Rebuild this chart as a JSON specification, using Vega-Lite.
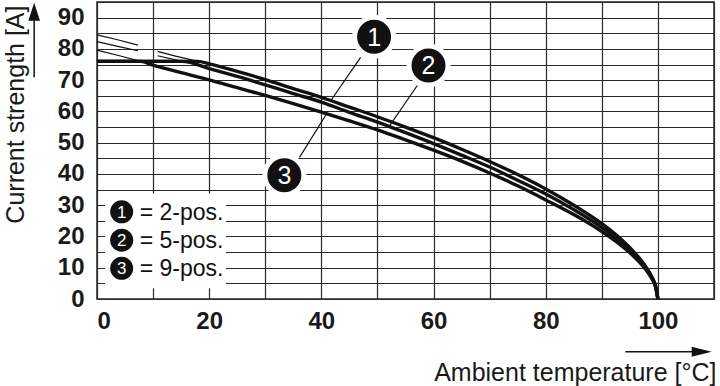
{
  "$schema": "https://vega.github.io/schema/vega-lite/v6.json",
  "width": 617,
  "height": 297,
  "autosize": {"type": "none"},
  "padding": {"left": 97, "top": 2, "right": 6, "bottom": 87},
  "background": "white",
  "config": {
    "font": "Liberation Sans",
    "view": {"stroke": "#2a2a2a", "strokeWidth": 1.5},
    "axis": {
      "domain": false,
      "ticks": false,
      "grid": true,
      "gridColor": "#2a2a2a",
      "gridWidth": 1.2,
      "gridOpacity": 1,
      "labelFont": "Liberation Sans",
      "labelFontWeight": "bold",
      "labelFontSize": 24,
      "labelColor": "#1a1a1a",
      "titleFont": "Liberation Sans",
      "titleFontWeight": "normal",
      "titleFontSize": 25,
      "titleColor": "#1a1a1a"
    }
  },
  "datasets": {
    "thick": [
      {"s": "1", "x": 0, "y": 76}, {"s": "1", "x": 18, "y": 76}, {"s": "1", "x": 20, "y": 75.2}, {"s": "1", "x": 25, "y": 72.8}, {"s": "1", "x": 30, "y": 70.2}, {"s": "1", "x": 35, "y": 67.3}, {"s": "1", "x": 40, "y": 64.5}, {"s": "1", "x": 45, "y": 61.4}, {"s": "1", "x": 50, "y": 58.3}, {"s": "1", "x": 55, "y": 55.0}, {"s": "1", "x": 60, "y": 51.6}, {"s": "1", "x": 65, "y": 47.9}, {"s": "1", "x": 70, "y": 44.0}, {"s": "1", "x": 75, "y": 39.8}, {"s": "1", "x": 80, "y": 35.2}, {"s": "1", "x": 85, "y": 30.0}, {"s": "1", "x": 90, "y": 24.1}, {"s": "1", "x": 93, "y": 19.8}, {"s": "1", "x": 95, "y": 16.4}, {"s": "1", "x": 97, "y": 12.4}, {"s": "1", "x": 98, "y": 9.9}, {"s": "1", "x": 99, "y": 6.8}, {"s": "1", "x": 99.6, "y": 4.1}, {"s": "1", "x": 100, "y": 0},
      {"s": "2", "x": 0, "y": 76}, {"s": "2", "x": 15.2, "y": 76}, {"s": "2", "x": 20, "y": 73.7}, {"s": "2", "x": 25, "y": 71.2}, {"s": "2", "x": 30, "y": 68.5}, {"s": "2", "x": 35, "y": 65.7}, {"s": "2", "x": 40, "y": 63.0}, {"s": "2", "x": 45, "y": 59.7}, {"s": "2", "x": 50, "y": 56.6}, {"s": "2", "x": 55, "y": 53.2}, {"s": "2", "x": 60, "y": 49.7}, {"s": "2", "x": 65, "y": 46.0}, {"s": "2", "x": 70, "y": 42.2}, {"s": "2", "x": 75, "y": 38.0}, {"s": "2", "x": 80, "y": 33.6}, {"s": "2", "x": 85, "y": 28.6}, {"s": "2", "x": 90, "y": 22.9}, {"s": "2", "x": 93, "y": 18.8}, {"s": "2", "x": 95, "y": 15.6}, {"s": "2", "x": 97, "y": 11.8}, {"s": "2", "x": 98, "y": 9.4}, {"s": "2", "x": 99, "y": 6.5}, {"s": "2", "x": 99.6, "y": 3.9}, {"s": "2", "x": 100, "y": 0},
      {"s": "3", "x": 0, "y": 76}, {"s": "3", "x": 7.8, "y": 76}, {"s": "3", "x": 10, "y": 74.8}, {"s": "3", "x": 15, "y": 72.4}, {"s": "3", "x": 20, "y": 70.1}, {"s": "3", "x": 25, "y": 67.6}, {"s": "3", "x": 30, "y": 65.1}, {"s": "3", "x": 35, "y": 62.5}, {"s": "3", "x": 40, "y": 59.8}, {"s": "3", "x": 45, "y": 57.0}, {"s": "3", "x": 50, "y": 54.1}, {"s": "3", "x": 55, "y": 50.9}, {"s": "3", "x": 60, "y": 47.6}, {"s": "3", "x": 65, "y": 44.1}, {"s": "3", "x": 70, "y": 40.3}, {"s": "3", "x": 75, "y": 36.2}, {"s": "3", "x": 80, "y": 31.7}, {"s": "3", "x": 85, "y": 27.0}, {"s": "3", "x": 90, "y": 21.6}, {"s": "3", "x": 93, "y": 17.8}, {"s": "3", "x": 95, "y": 14.8}, {"s": "3", "x": 97, "y": 11.2}, {"s": "3", "x": 98, "y": 9.0}, {"s": "3", "x": 99, "y": 6.2}, {"s": "3", "x": 99.6, "y": 3.7}, {"s": "3", "x": 100, "y": 0}
    ],
    "thin": [
      {"seg": "1a", "x": 0, "y": 84.5}, {"seg": "1a", "x": 3.5, "y": 83.0}, {"seg": "1a", "x": 7.3, "y": 81.2},
      {"seg": "1b", "x": 10.8, "y": 79.2}, {"seg": "1b", "x": 14, "y": 77.7}, {"seg": "1b", "x": 18, "y": 76},
      {"seg": "2a", "x": 0, "y": 82.3}, {"seg": "2a", "x": 3.5, "y": 80.9}, {"seg": "2a", "x": 7.3, "y": 79.4},
      {"seg": "2b", "x": 10.8, "y": 77.8}, {"seg": "2b", "x": 15.2, "y": 76},
      {"seg": "3a", "x": 0, "y": 79.6}, {"seg": "3a", "x": 4, "y": 77.8}, {"seg": "3a", "x": 7.8, "y": 76}
    ],
    "leaders": [
      {"x": 47.0, "y": 77.3, "x2": 41.7, "y2": 63.5},
      {"x": 57.1, "y": 68.3, "x2": 52.0, "y2": 55.0},
      {"x": 36.1, "y": 45.3, "x2": 41.0, "y2": 59.4}
    ],
    "labels": [
      {"x": 49.4, "y": 83.9, "n": "1"},
      {"x": 59.1, "y": 74.7, "n": "2"},
      {"x": 33.4, "y": 39.6, "n": "3"}
    ],
    "legendbox": [{"x": 1.42, "x2": 23.0, "y": 3.4, "y2": 33.7}],
    "legend": [
      {"x": 4.4, "y": 27.9, "n": "1", "tx": 7.6, "t": "= 2-pos."},
      {"x": 4.4, "y": 18.8, "n": "2", "tx": 7.6, "t": "= 5-pos."},
      {"x": 4.4, "y": 9.8, "n": "3", "tx": 7.6, "t": "= 9-pos."}
    ],
    "arrowlines": [
      {"id": "y", "x": -11.2, "y": 70.9}, {"id": "y", "x": -11.2, "y": 89.5},
      {"id": "x", "x": 94.2, "y": -16.9}, {"id": "x", "x": 106.5, "y": -16.9}
    ],
    "yhead": [{"x": -11.2, "y": 91.9}],
    "xhead": [{"x": 107.8, "y": -16.9}]
  },
  "encoding": {
    "x": {
      "field": "x", "type": "quantitative",
      "scale": {"domain": [0, 110], "nice": false, "zero": false},
      "axis": {
        "values": [0, 10, 20, 30, 40, 50, 60, 70, 80, 90, 100, 110],
        "labelExpr": "(datum.value % 20 == 0 && datum.value <= 100) ? datum.label : ''",
        "labelPadding": 10,
        "title": "Ambient temperature [°C]",
        "titleAnchor": null,
        "titleX": 619,
        "titleY": 81,
        "titleAlign": "right",
        "titleBaseline": "alphabetic"
      }
    },
    "y": {
      "field": "y", "type": "quantitative",
      "scale": {"domain": [0, 95], "nice": false, "zero": false},
      "axis": {
        "values": [0, 5, 10, 15, 20, 25, 30, 35, 40, 45, 50, 55, 60, 65, 70, 75, 80, 85, 90, 95],
        "labelExpr": "(datum.value % 10 == 0 && datum.value <= 90) ? datum.label : ''",
        "labelPadding": 13,
        "title": "Current strength [A]",
        "titleAnchor": null,
        "titleAngle": -90,
        "titleX": -73.5,
        "titleY": 3,
        "titleAlign": "right",
        "titleBaseline": "alphabetic"
      }
    }
  },
  "layer": [
    {
      "data": {"name": "legendbox"},
      "mark": {"type": "rect", "fill": "white", "stroke": null},
      "encoding": {"x2": {"field": "x2"}, "y2": {"field": "y2"}}
    },
    {
      "data": {"name": "thin"},
      "mark": {"type": "line", "color": "#111", "strokeWidth": 1.2},
      "encoding": {"detail": {"field": "seg"}}
    },
    {
      "data": {"name": "thick"},
      "mark": {"type": "line", "color": "#111", "strokeWidth": 3.4, "interpolate": "monotone"},
      "encoding": {"detail": {"field": "s"}}
    },
    {
      "data": {"name": "leaders"},
      "mark": {"type": "rule", "color": "#111", "strokeWidth": 1.2},
      "encoding": {"x2": {"field": "x2"}, "y2": {"field": "y2"}}
    },
    {
      "data": {"name": "labels"},
      "mark": {"type": "point", "shape": "circle", "filled": true, "fill": "#111", "stroke": "white", "strokeWidth": 5, "strokeOpacity": 1, "opacity": 1, "size": 1521},
      "encoding": {}
    },
    {
      "data": {"name": "labels"},
      "mark": {"type": "text", "color": "white", "fontSize": 25, "baseline": "middle", "align": "center", "dy": 1},
      "encoding": {"text": {"field": "n"}}
    },
    {
      "data": {"name": "legend"},
      "mark": {"type": "point", "shape": "circle", "filled": true, "fill": "#111", "opacity": 1, "size": 529},
      "encoding": {}
    },
    {
      "data": {"name": "legend"},
      "mark": {"type": "text", "color": "white", "fontSize": 17, "baseline": "middle", "align": "center", "dy": 1},
      "encoding": {"text": {"field": "n"}}
    },
    {
      "data": {"name": "legend"},
      "mark": {"type": "text", "color": "#111", "fontSize": 23, "baseline": "middle", "align": "left", "dy": 1},
      "encoding": {"x": {"field": "tx", "type": "quantitative"}, "text": {"field": "t"}}
    },
    {
      "data": {"name": "arrowlines"},
      "mark": {"type": "line", "color": "#111", "strokeWidth": 1.5},
      "encoding": {"detail": {"field": "id"}}
    },
    {
      "data": {"name": "yhead"},
      "mark": {"type": "point", "shape": "M0,-1L0.65,1L-0.65,1Z", "filled": true, "fill": "#111", "opacity": 1, "size": 324},
      "encoding": {}
    },
    {
      "data": {"name": "xhead"},
      "mark": {"type": "point", "shape": "M1,0L-1,-0.5L-1,0.5Z", "filled": true, "fill": "#111", "opacity": 1, "size": 400},
      "encoding": {}
    }
  ]
}
